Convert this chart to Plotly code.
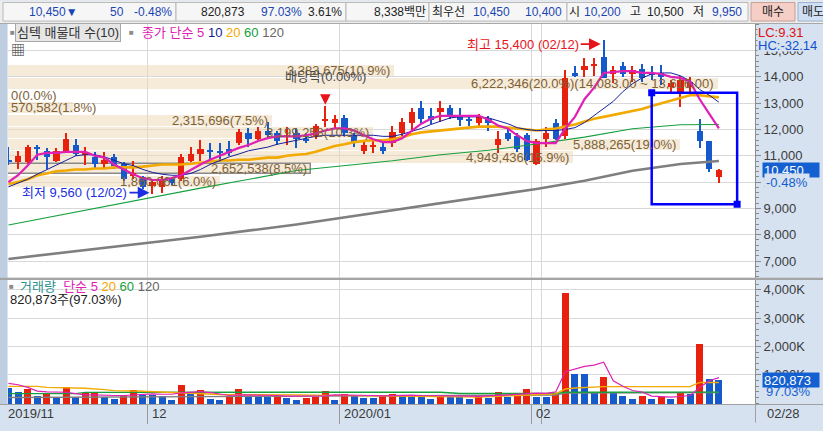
import plotly.graph_objects as go

# trading days on screen
nov = [11, 12, 13, 14, 15, 18, 19, 20, 21, 22, 25, 26, 27, 28, 29]
dec = [2, 3, 4, 5, 6, 9, 10, 11, 12, 13, 16, 17, 18, 19, 20, 23, 24, 26, 27, 30]
jan = [2, 3, 6, 7, 8, 9, 10, 13, 14, 15, 16, 17, 20, 21, 22, 23, 28, 29, 30, 31]
feb = [3, 4, 5, 6, 7, 10, 11, 12, 13, 14, 17, 18, 19, 20, 21, 24, 25, 26, 27, 28]
dates = ([f"2019-11-{d:02d}" for d in nov] + [f"2019-12-{d:02d}" for d in dec]
         + [f"2020-01-{d:02d}" for d in jan] + [f"2020-02-{d:02d}" for d in feb])

open_ = [10850, 10750, 10750, 11350, 11200, 10800, 11200, 11400, 11050, 10950,
         10700, 10950, 10700, 10250, 10200, 9850, 9800, 10100, 10100, 10800,
         11050, 11200, 11200, 11250, 11500, 11850, 11650, 11950, 11850, 11750,
         11850, 11650, 11700, 12350, 12250, 12450, 11800, 11200, 11350, 11350,
         11500, 11850, 12250, 12800, 12500, 12650, 12800, 12550, 12400, 12250,
         12400, 11400, 11850, 11750, 11800, 10700, 11650, 12250, 11750, 14150,
         14250, 14400, 14750, 14100, 14400, 14100, 14300, 14150, 14150, 13600,
         13400, 13600, 11950, 11550, 10200]
high = [11350, 11200, 11400, 11400, 11300, 11300, 11850, 11650, 11350, 11150,
        11150, 11050, 10750, 10800, 10250, 10100, 10250, 10200, 11050, 11350,
        11600, 11500, 11500, 11550, 12000, 12050, 12100, 12300, 11950, 12100,
        12050, 11850, 12200, 12900, 12550, 12550, 11850, 11600, 11650, 11550,
        12150, 12450, 12800, 13100, 12800, 13100, 12950, 12800, 12550, 12600,
        12500, 11950, 12100, 11850, 11850, 11650, 12100, 12400, 14250, 14400,
        14700, 14700, 15400, 14400, 14550, 14400, 14500, 14400, 14450, 13900,
        14050, 14000, 12400, 11550, 10500]
low = [10650, 10500, 10700, 10850, 10500, 10750, 11150, 11000, 10650, 10500,
       10550, 10500, 10050, 10100, 9750, 9560, 9600, 9900, 10050, 10750,
       10800, 10800, 10750, 11000, 11400, 11350, 11600, 11650, 11400, 11400,
       11300, 11500, 11650, 12100, 12050, 11750, 11350, 11050, 11100, 11050,
       11350, 11750, 11900, 12200, 12200, 12300, 12400, 12150, 12150, 12150,
       11950, 11100, 11550, 11150, 10800, 10650, 11350, 11600, 11650, 14000,
       14000, 14050, 13950, 13750, 14000, 13800, 13800, 13900, 13700, 13350,
       12850, 13350, 11300, 10400, 9950]
close = [10750, 11000, 11350, 11250, 10950, 11200, 11650, 11050, 11100, 10700,
         10850, 10600, 10100, 10350, 9800, 10000, 10100, 9950, 10950, 11050,
         11250, 11150, 11100, 11100, 11900, 11650, 11950, 11800, 11550, 11800,
         11650, 11600, 12150, 12400, 12400, 11850, 11500, 11400, 11400, 11200,
         11900, 12300, 12650, 12400, 12350, 12800, 12550, 12350, 12350, 12500,
         12250, 11650, 11650, 11250, 10850, 11550, 11850, 11650, 13950, 14050,
         14400, 14500, 13950, 14250, 14100, 14250, 13950, 14100, 14000, 13750,
         13900, 13800, 11550, 10500, 10450]
volume = [562000, 424000, 528000, 286000, 390000, 194000, 597000, 240000, 367000, 380000,
          240000, 160000, 321000, 494000, 321000, 309000, 275000, 125000, 666000, 424000,
          470000, 183000, 125000, 275000, 528000, 275000, 263000, 252000, 275000, 217000,
          148000, 217000, 229000, 459000, 125000, 355000, 275000, 206000, 194000, 275000,
          355000, 321000, 286000, 270000, 183000, 275000, 252000, 245000, 183000, 252000,
          206000, 424000, 252000, 260000, 528000, 252000, 245000, 390000, 3897000, 1055000,
          1040000, 367000, 941000, 367000, 275000, 183000, 275000, 183000, 229000, 183000,
          367000, 344000, 2114000, 872000, 820873]

# price moving averages as drawn
ma5 = [10000, 10260, 10630, 11040, 11110, 11110, 11150, 11150, 11150, 11000,
       10930, 10670, 10480, 10300, 10150, 10080, 10080, 10150, 10260, 10480,
       10670, 10850, 11000, 11150, 11300, 11410, 11560, 11670, 11740, 11740,
       11740, 11780, 11850, 11960, 12040, 12040, 11960, 11780, 11630, 11520,
       11520, 11670, 11930, 12220, 12410, 12520, 12520, 12520, 12520, 12520,
       12370, 12150, 12040, 11780, 11560, 11480, 11480, 11480, 12040, 12480,
       13150, 13590, 14150, 14190, 14220, 14220, 14150, 14150, 14110, 14000,
       13960, 13820, 13150, 12590, 12040]
ma10 = [9820, 9960, 10110, 10300, 10480, 10670, 10850, 11000, 11040, 11040,
        10960, 10820, 10700, 10630, 10480, 10370, 10300, 10260, 10260, 10330,
        10480, 10670, 10820, 10960, 11070, 11190, 11260, 11330, 11440, 11520,
        11590, 11670, 11740, 11780, 11780, 11780, 11780, 11780, 11780, 11740,
        11740, 11820, 11930, 12040, 12190, 12330, 12440, 12480, 12480, 12480,
        12440, 12330, 12220, 12070, 12000, 11960, 11960, 11960, 12000, 12070,
        12260, 12520, 12780, 13070, 13440, 13740, 13960, 14110, 14150, 14150,
        14040, 13850, 13520, 13300, 13040]
ma20 = [9930, 10000, 10110, 10260, 10330, 10410, 10440, 10480, 10480, 10520,
        10520, 10560, 10560, 10560, 10590, 10630, 10670, 10670, 10670, 10700,
        10740, 10780, 10820, 10820, 10850, 10850, 10890, 10930, 10930, 11000,
        11040, 11070, 11150, 11260, 11370, 11440, 11520, 11560, 11590, 11590,
        11630, 11700, 11820, 11890, 11930, 11960, 12000, 12040, 12070, 12110,
        12110, 12110, 12070, 12040, 12000, 11960, 12000, 12040, 12110, 12190,
        12300, 12410, 12480, 12560, 12630, 12700, 12780, 12890, 13000, 13110,
        13220, 13300, 13300, 13260, 13220]
ma60_idx = [0, 10, 15, 20, 30, 40, 45, 50, 55, 60, 65, 70, 74]
ma60 = [8370, 9080, 9440, 9770, 10440, 10810, 11040, 11210, 11450, 11710, 12030, 12180, 12190]
ma120_idx = [0, 10, 20, 30, 40, 50, 55, 60, 65, 70, 74]
ma120 = [7080, 7490, 7920, 8390, 8930, 9480, 9740, 10050, 10430, 10690, 10800]

# volume moving averages (K) as drawn
vma5 = [700, 655, 560, 430, 400, 390, 390, 340, 300, 300,
        276, 276, 276, 300, 331, 331, 320, 320, 370, 390,
        414, 380, 331, 276, 300, 297, 297, 297, 276, 252,
        252, 240, 240, 260, 297, 297, 297, 297, 276, 265,
        280, 297, 290, 276, 276, 265, 252, 252, 252, 245,
        252, 280, 300, 320, 350, 360, 350, 400, 1114, 1200,
        1300, 1345, 1448, 793, 600, 450, 400, 252, 230, 217,
        240, 276, 560, 793, 907]
vma20_idx = [0, 3, 4, 8, 10, 11, 14, 16, 18, 20, 22, 30, 34, 43, 49, 53, 57, 58, 59, 62, 71, 72, 74]
vma20 = [597, 597, 562, 528, 483, 448, 424, 390, 367, 345, 310, 297, 276, 252, 217, 276, 331, 503, 538, 586, 586, 734, 734]
vma60_idx = [0, 7, 8, 30, 45, 47, 57, 58, 74]
vma60 = [340, 340, 385, 395, 390, 345, 345, 390, 395]
vma120_idx = [0, 20, 42, 57, 58, 74]
vma120 = [207, 230, 270, 290, 360, 380]

# 매물대 (volume by price), top band first
band_hi = [14450, 13970, 13500, 13030, 12550, 12100, 11620, 11170, 10690, 10240]
band_lo = [14040, 13550, 13090, 12620, 12140, 11690, 11210, 10730, 10320, 9830]
band_volume = [3383675, 6222346, 0, 570582, 2315696, 3199258, 5888265, 4949436, 2652538, 1860061]
peak_band_range = (14083.00, 13616.00)

quote = dict(price=10450, change=-50, pct=-0.48, volume=820873, vol_ratio=97.03, turnover=3.61,
             amount="8,338백만", ask=10450, bid=10400, open=10200, high=10500, low=9950)
lc_hc = ("LC:9.31", "HC:-32.14")
box = dict(start="2020-02-19", right=75.9, top=13400, bottom=9160)
price_ticks = list(range(7000, 16000, 1000))
vol_ticks = [1000, 2000, 3000, 4000]

assert all(len(a) == len(dates) for a in (open_, high, low, close, volume, ma5, ma10, ma20, vma5))

RED, BLUE = "#E8200E", "#1559CB"
FONT = "Liberation Sans, Noto Sans CJK KR, sans-serif"
AXIS_BG = "#D6E2F0"
GRID = "#D8D8D8"
W, H, ML, MR, MT, MB = 823, 431, 8, 68, 24, 19
X_RANGE = [-0.05, 77.76]
SLOT = (W - ML - MR) / (X_RANGE[1] - X_RANGE[0])


def px_x(px):
    return (px - ML) / (W - ML - MR)


def px_y(py):
    return (H - MB - py) / (H - MT - MB)


fig = go.Figure()

# bands underneath the candles
band_max = max(band_volume) / 0.9505
current = [lo <= close[-1] <= hi for hi, lo in zip(band_hi, band_lo)]
fig.add_trace(go.Bar(
    orientation="h", x=band_volume, y=[(h + l) / 2 for h, l in zip(band_hi, band_lo)],
    width=[h - l for h, l in zip(band_hi, band_lo)],
    marker=dict(color="rgba(238,214,180,0.5)",
                line=dict(color=["#8a8a8a" if c else "rgba(0,0,0,0)" for c in current],
                          width=[1.5 if c else 0 for c in current])),
    xaxis="x", yaxis="y", hoverinfo="skip"
))

colors = [RED if c >= o else BLUE for o, c in zip(open_, close)]
fig.add_trace(go.Bar(
    x=dates, y=[h - l for h, l in zip(high, low)], base=low, width=0.12,
    marker=dict(color=colors, line_width=0), xaxis="x3", yaxis="y"
))
fig.add_trace(go.Bar(
    x=dates, y=[max(abs(c - o), 40) for o, c in zip(open_, close)],
    base=[min(o, c) for o, c in zip(open_, close)], width=0.66,
    marker=dict(color=colors, line_width=0), xaxis="x3", yaxis="y"
))

for xs, ys, color, width in [
    ([dates[i] for i in ma120_idx], ma120, "#7f7f7f", 2.6),
    ([dates[i] for i in ma60_idx], ma60, "#14a03c", 1.1),
    (dates, ma20, "#F2A900", 2.6),
    (dates, ma10, "#14209a", 1.0),
    (dates, ma5, "#E020B4", 2.2),
]:
    fig.add_trace(go.Scatter(x=xs, y=ys, mode="lines", line=dict(color=color, width=width),
                             xaxis="x3", yaxis="y"))

# volume panel
vol_colors = [RED if i > 0 and v > volume[i - 1] else BLUE for i, v in enumerate(volume)]
fig.add_trace(go.Bar(x=dates, y=[v / 1000 for v in volume], width=0.72,
                     marker=dict(color=vol_colors, line_width=0), xaxis="x2", yaxis="y2"))
for xs, ys, color, width in [
    ([dates[i] for i in vma120_idx], vma120, "#7f7f7f", 1.4),
    ([dates[i] for i in vma60_idx], vma60, "#14a03c", 1.4),
    ([dates[i] for i in vma20_idx], vma20, "#F2A900", 1.4),
    (dates, vma5, "#E020B4", 1.2),
]:
    fig.add_trace(go.Scatter(x=xs, y=ys, mode="lines", line=dict(color=color, width=width),
                             xaxis="x2", yaxis="y2"))

month_first = [i for i, d in enumerate(dates) if i == 0 or d[:7] != dates[i - 1][:7]]
month_labels = [f"{dates[i][:4]}/{dates[i][5:7]}" if i == 0 or dates[i][:4] != dates[i - 1][:4]
                else dates[i][5:7] for i in month_first]

date_axis = dict(type="category", categoryorder="array", categoryarray=dates, range=X_RANGE,
                 showgrid=True, gridcolor=GRID, tickson="boundaries", tickmode="array",
                 tickvals=[dates[i] for i in month_first], showticklabels=False, zeroline=False)
value_axis = dict(side="right", tickmode="array", showgrid=True, gridcolor=GRID, zeroline=False,
                  ticks="outside", ticklen=5, tickcolor="#8a8a8a", showline=True, linecolor="#8e8e8e",
                  tickfont=dict(size=13, color="#3c3c3c"),
                  minor=dict(dtick=200, tick0=0, ticks="outside", ticklen=3, tickcolor="#8a8a8a",
                             showgrid=False))

fig.update_layout(
    width=W, height=H, margin=dict(l=ML, r=MR, t=MT, b=MB),
    paper_bgcolor=AXIS_BG, plot_bgcolor="white", barmode="overlay", bargap=0,
    showlegend=False, hovermode=False,
    font=dict(family=FONT, size=13, color="#3a3a3a"),
    xaxis=dict(domain=[0, 1], range=[0, band_max], visible=False),
    xaxis3=dict(date_axis, overlaying="x", anchor="y", ticks=""),
    xaxis2=dict(date_axis, anchor="y2", ticks="outside", ticklen=19, tickcolor="#9a9a9a",
                showline=True, linecolor="#9a9a9a"),
    yaxis=dict(value_axis, domain=[px_y(283), 1], range=[6368, 16010], anchor="x",
               tickvals=price_ticks, ticktext=[f"{v:,}" for v in price_ticks]),
    yaxis2=dict(value_axis, domain=[0, px_y(285)], range=[-24, 4355], anchor="x2",
                tickvals=vol_ticks, ticktext=[f"{v:,}K" for v in vol_ticks]),
)

shapes = []


def rect(x0, y0, x1, y1, fill, line=None):
    shapes.append(dict(type="rect", xref="paper", yref="paper", x0=px_x(x0), x1=px_x(x1),
                       y0=px_y(y1), y1=px_y(y0), fillcolor=fill,
                       line=dict(color=line or fill, width=1 if line else 0)))


rect(0, 0, W, 23, "#EDEDED")
for a, b in [(3, 176), (176, 346), (346, 429), (429, 567), (567, 748)]:
    rect(a, 2, b, 21, "#F6F6F6", "#B8B8B8")
rect(751, 2, 795, 21, "#F5CEC6", "#C69C96")
rect(798, 2, 826, 21, "#CFE0F4", "#9AB0CC")
rect(0, 23, W, 24, "#A8A8A8")
rect(0, 24, 7, 412, "#BFCDE0")
rect(0, 283, W, 285.5, "#A5A5A5")
rect(0, 412, W, 413, "#A0A0A0")
rect(755, 412, 756, H, "#A0A0A0")

# drawn rectangle
x0 = dates.index(box["start"])
shapes.append(dict(type="rect", xref="x3", yref="y", x0=x0, x1=box["right"], y0=box["bottom"],
                   y1=box["top"], line=dict(color="#0000FF", width=2.5)))
for xa, ya in [(x0, box["top"]), (box["right"], box["bottom"])]:
    shapes.append(dict(type="rect", xref="x3", yref="y", xsizemode="pixel", ysizemode="pixel",
                       xanchor=xa, yanchor=ya, x0=-3.5, x1=3.5, y0=-3.5, y1=3.5,
                       fillcolor="#0000FF", line=dict(width=0)))
fig.update_layout(shapes=shapes)

ann = []


def text(x_px, y_px, s, color="#222", anchor="left", size=13, **kw):
    ann.append(dict(xref="paper", yref="paper", x=px_x(x_px), y=px_y(y_px), text=s,
                    showarrow=False, xanchor=anchor, yanchor="middle",
                    font=dict(color=color, size=size, family=FONT), **kw))


# quote bar
qb = "#1A46B4"
text(80, 11.5, f"{quote['price']:,}▼", qb, "right", 12)
text(126, 11.5, f"{abs(quote['change'])}", qb, "right", 12)
text(174, 11.5, f"{quote['pct']:.2f}%", qb, "right", 12)
text(247, 11.5, f"{quote['volume']:,}", "#222", "right", 12)
text(304, 11.5, f"{quote['vol_ratio']:.2f}%", qb, "right", 12)
text(344, 11.5, f"{quote['turnover']:.2f}%", "#222", "right", 12)
text(428, 11.5, quote["amount"], "#222", "right", 12)
text(430, 11.5, "최우선", "#222", size=12)
text(512, 11.5, f"{quote['ask']:,}", qb, "right", 12)
text(564, 11.5, f"{quote['bid']:,}", qb, "right", 12)
text(567, 11.5, "시", "#222", size=12)
text(623, 11.5, f"{quote['open']:,}", qb, "right", 12)
text(628, 11.5, "고", "#222", size=12)
text(686, 11.5, f"{quote['high']:,}", "#222", "right", 12)
text(691, 11.5, "저", "#222", size=12)
text(744, 11.5, f"{quote['low']:,}", qb, "right", 12)
text(773, 11.5, "매수", "#222", "center", 12)
text(800, 11.5, "매도", "#222", size=12)

# panel headings
text(8, 33, "■", "#8c8c8c", size=8)
text(15, 33, "심텍 매물대 수(10)", "#333", bgcolor="#E6E6E6", bordercolor="#A8A8A8",
     borderwidth=1, borderpad=1)
text(127, 33, "■", "#8c8c8c", size=8)
text(140, 33, "<span style='color:#E020B4'>종가 단순 5</span> <span style='color:#14209a'>10</span> "
              "<span style='color:#F2A900'>20</span> <span style='color:#14a03c'>60</span> "
              "<span style='color:#666'>120</span>")
text(9, 51, "▦", "#333", size=14)
text(7, 292, "■", "#8c8c8c", size=8)
text(18, 292, "<span style='color:#2A9090'>거래량</span>  <span style='color:#E020B4'>단순 5</span> "
              "<span style='color:#F2A900'>20</span> <span style='color:#14a03c'>60</span> "
              "<span style='color:#666'>120</span>")
text(8, 305, f"{quote['volume']:,}주({quote['vol_ratio']:.2f}%)", "#222")

# axis side labels
text(757, 45, lc_hc[1], "#1050D0", bgcolor=AXIS_BG, height=12, borderpad=0)
text(757, 32, lc_hc[0], "#E01010", bgcolor=AXIS_BG, height=12, borderpad=0)
ann.append(dict(xref="paper", yref="y", x=px_x(762), y=close[-1], text=f"{close[-1]:,}",
                showarrow=False, xanchor="left", yanchor="middle", width=54, height=12,
                align="left", bgcolor="#1560D0", font=dict(color="white", size=13)))
ann.append(dict(xref="paper", yref="y", x=px_x(764), y=close[-1], yshift=-12,
                text=f"{quote['pct']:.2f}%", showarrow=False, xanchor="left", yanchor="middle",
                bgcolor=AXIS_BG, font=dict(color="#1560D0", size=13)))
ann.append(dict(xref="paper", yref="y2", x=px_x(762), y=volume[-1] / 1000, text=f"{volume[-1]:,}",
                showarrow=False, xanchor="left", yanchor="middle", width=54, height=12,
                align="left", bgcolor="#1560D0", font=dict(color="white", size=13)))
ann.append(dict(xref="paper", yref="y2", x=px_x(764), y=volume[-1] / 1000, yshift=-12,
                text=f"{quote['vol_ratio']:.2f}%", showarrow=False, xanchor="left", yanchor="middle",
                font=dict(color="#1560D0", size=13)))

# month labels, just right of each month boundary
for i, lab in zip(month_first, month_labels):
    ann.append(dict(xref="x2", yref="paper", x=i, y=px_y(421.5), text=lab, showarrow=False,
                    xanchor="left", yanchor="middle", xshift=2 - SLOT / 2,
                    font=dict(color="#3a3a3a", size=13)))
text(765, 421.5, f"{dates[-1][5:7]}/{dates[-1][8:]}", "#3a3a3a")

# band labels
total = sum(band_volume)
for k, v in enumerate(band_volume):
    s = f"{v:,}({v / total * 100:.1f}%)"
    if v == max(band_volume):
        s += f"({peak_band_range[0]:,.2f} ~ {peak_band_range[1]:,.2f})"
    fits = v / band_max * (W - ML - MR) > len(s) * 6.7
    ann.append(dict(xref="x", yref="y", x=v if fits else 0, y=(band_hi[k] + band_lo[k]) / 2,
                    text=s, showarrow=False, xanchor="right" if fits else "left",
                    xshift=-2 if fits else 1, yanchor="middle",
                    font=dict(color="#7d6236", size=13)))

# high / low markers
hi_i = high.index(max(high))
lo_i = low.index(min(low))
ann.append(dict(xref="x3", yref="y", x=hi_i, y=high[hi_i], yshift=-4, ax=-23, ay=0,
                text=f"최고 {high[hi_i]:,} ({dates[hi_i][5:7]}/{dates[hi_i][8:]})",
                xanchor="right", yanchor="middle", showarrow=True, arrowhead=2, arrowsize=1.3,
                arrowwidth=1.8, arrowcolor="#E8141C", standoff=3, font=dict(color="#E8141C", size=13)))
ann.append(dict(xref="x3", yref="y", x=lo_i, y=low[lo_i], yshift=1, ax=-23, ay=0,
                text=f"최저 {low[lo_i]:,} ({dates[lo_i][5:7]}/{dates[lo_i][8:]})",
                xanchor="right", yanchor="middle", showarrow=True, arrowhead=2, arrowsize=1.3,
                arrowwidth=1.8, arrowcolor="#1B2FE0", standoff=3, font=dict(color="#1B2FE0", size=13)))

# ex-dividend marker
exd = dates.index("2019-12-27")
ann.append(dict(xref="x3", yref="y", x=exd, y=high[exd], ax=0, ay=-19, text=" ", showarrow=True,
                arrowhead=2, arrowsize=1.4, arrowwidth=1.5, arrowcolor="#E8141C", standoff=1))
ann.append(dict(xref="x3", yref="y", x=exd, y=14000, text="배당락(0.00%)", showarrow=False,
                xanchor="center", yanchor="middle", font=dict(color="#4a4a4a", size=13)))

fig.update_layout(annotations=ann)
# the page's default body margin would push the chart 8px off the corner
fig.write_html("out.html", config={"displayModeBar": False},
               post_script="document.body.style.margin='0';")
